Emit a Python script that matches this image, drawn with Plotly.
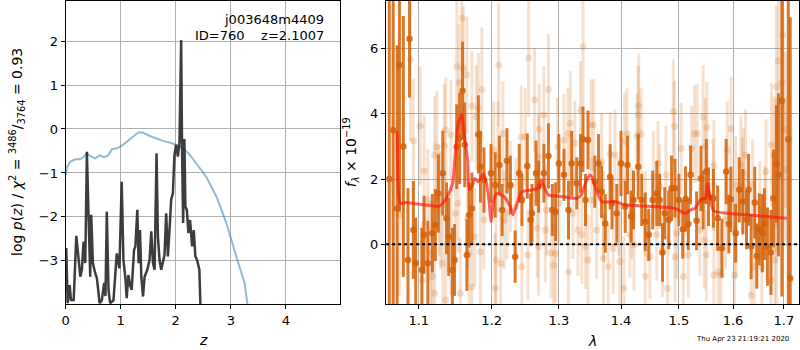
import math
import plotly.graph_objects as go

# ---------------- left panel: redshift PDF ----------------
z_chi2 = [0.0, 0.03, 0.085, 0.175, 0.265, 0.33, 0.385, 0.45, 0.535, 0.62, 0.69, 0.77, 0.84, 0.93, 1.02,
          1.11, 1.23, 1.32, 1.40, 1.53, 1.77, 1.95, 2.13, 2.25, 2.37, 2.55, 2.74, 2.92, 3.10, 3.25, 3.30, 3.35]
chi2_scaled = [-1.05, -0.85, -0.74, -0.69, -0.69, -0.63, -0.55, -0.62, -0.67, -0.60, -0.64, -0.60, -0.46, -0.44, -0.38,
               -0.29, -0.19, -0.08, -0.08, -0.16, -0.27, -0.33, -0.44, -0.58, -0.78, -1.08, -1.54, -2.14, -2.90, -3.50, -3.96, -4.5]

z_pz = [0.0, 0.01, 0.036, 0.072, 0.096, 0.145, 0.193, 0.235, 0.266, 0.295,
        0.325, 0.356, 0.385, 0.416, 0.446, 0.464, 0.494, 0.537, 0.566, 0.597,
        0.615, 0.656, 0.70, 0.723, 0.747, 0.778, 0.808, 0.868, 0.928, 0.976,
        1.018, 1.049, 1.085, 1.109, 1.139, 1.17, 1.199, 1.242, 1.266, 1.302,
        1.325, 1.35, 1.374, 1.405, 1.434, 1.483, 1.524, 1.555, 1.586, 1.615,
        1.651, 1.676, 1.705, 1.736, 1.767, 1.796, 1.826, 1.857, 1.886, 1.917,
        1.948, 1.976, 2.007, 2.038, 2.067, 2.098, 2.116, 2.134, 2.157, 2.175,
        2.201, 2.23, 2.26, 2.297, 2.327, 2.356, 2.387, 2.429, 2.447, 2.46]
log_pz = [-2.75, -2.71, -3.96, -3.55, -3.89, -3.89, -2.43, -2.98, -3.36, -3.19,
          -2.56, -3.05, -0.52, -1.99, -3.36, -1.95, -3.05, -3.28, -3.39, -3.73,
          -3.96, -3.9, -3.5, -3.8, -1.88, -3.66, -3.96, -3.9, -2.83, -3.17,
          -1.20, -2.98, -3.39, -3.85, -3.32, -3.55, -3.66, -2.75, -2.67, -1.84,
          -3.05, -2.30, -3.36, -3.81, -3.36, -3.20, -2.98, -2.33, -3.05, -3.20,
          -0.55, -2.45, -2.98, -3.20, -2.98, -2.86, -1.92, -2.90, -2.30, -1.61,
          -1.46, -0.59, -0.36, -0.63, -0.32, 2.02, -0.63, -2.14, -0.23, -1.77,
          -1.84, -2.37, -2.07, -2.67, -2.30, -2.90, -2.98, -3.20, -3.96, -4.5]

z_ticks = [0, 1, 2, 3, 4]
pz_ticks = [-3, -2, -1, 0, 1, 2]

# ---------------- right panel: spectrum ----------------
lam_dark = [1.062, 1.067, 1.072, 1.075, 1.080, 1.086, 1.088, 1.093, 1.096, 1.104, 1.107, 1.112, 1.118, 1.122, 1.126,
            1.132, 1.137, 1.140, 1.145, 1.148, 1.151, 1.155, 1.159, 1.162, 1.165, 1.168, 1.172, 1.181, 1.184, 1.189,
            1.199, 1.205, 1.211, 1.215, 1.222, 1.227, 1.234, 1.240, 1.244, 1.252, 1.257, 1.259, 1.265, 1.269, 1.277,
            1.284, 1.290, 1.295, 1.300, 1.308, 1.315, 1.320, 1.328, 1.334, 1.338, 1.342, 1.346,
            1.357, 1.363, 1.368, 1.374, 1.382, 1.385, 1.393, 1.400, 1.407, 1.411, 1.417, 1.421, 1.429, 1.435,
            1.441, 1.447, 1.454, 1.461, 1.466, 1.471, 1.475, 1.482, 1.487, 1.493, 1.500, 1.507, 1.512, 1.517, 1.521,
            1.532, 1.540, 1.544, 1.550, 1.554, 1.563, 1.571, 1.579, 1.587, 1.592, 1.596, 1.605, 1.612, 1.619, 1.626,
            1.630, 1.635, 1.642, 1.646, 1.651, 1.657, 1.661, 1.667, 1.674, 1.679, 1.685, 1.689, 1.696, 1.709, 1.713]
flux_dark = [2.0, 3.5, 1.10, 5.50, 3.0, -0.48, 6.3, 0.44, -0.58, -0.79, 0.29, -0.58, 0.34, 0.59, 1.56,
             2.18, 0.80, 0.23, -0.79, -0.48, 2.99, 3.25, 4.71, 3.05, -0.33, 0.90, 1.10, 3.37, 2.38, 1.97,
             2.18, 1.82, 2.43, 1.05, 2.56, 1.82, -0.38, 2.18, 1.36, 2.40, 0.75, 0.95, 2.18, 1.77, 2.18,
             2.71, 1.05, 1.00, 2.48, 2.13, 1.05, 2.48, 1.87, 2.48, 3.22, 1.36, 3.20,
             1.92, 2.48, 1.61, 0.64, 2.07, 1.26, 0.95, 2.48, 1.15, 2.43, 0.85, 1.36, 2.38, 1.36,
             0.69, 0.29, 1.36, 1.56, 1.36, -0.25, 0.95, 0.75, 1.72, 1.72, 1.36, 0.46, 1.39, 0.62, 2.13,
             0.72, 2.02, 1.36, 2.23, 1.46, 1.41, 0.80, -0.12, 2.23, 0.62, 1.38, 0.34, 1.67, 1.31, 0.75,
             1.67, -0.07, 1.28, -0.36, 0.46, 0.34, 0.62, -0.07, -0.25, 1.41, 2.46, 2.13, 4.40, 3.22, -1.04]
err_dark = [8.0, 6.0, 5.0, 4.5, 4.0, 2.2, 1.8, 1.5, 1.4, 1.3, 1.2, 1.3, 1.2, 1.1, 1.2,
            1.3, 1.1, 1.2, 1.3, 1.1, 1.3, 1.4, 1.5, 1.3, 1.1, 1.0, 1.1, 1.2, 1.1, 1.0,
            0.9, 1.0, 0.9, 0.8, 1.0, 0.9, 0.8, 0.9, 0.8, 1.0, 0.8, 0.9, 1.0, 0.8, 0.9,
            1.0, 0.8, 0.9, 0.9, 0.8, 0.9, 1.0, 0.8, 0.9, 1.0, 0.8, 0.9,
            0.8, 0.9, 0.8, 0.9, 1.0, 0.8, 0.9, 1.0, 0.8, 0.9, 0.8, 0.9, 1.0, 0.8,
            0.9, 0.8, 0.9, 1.0, 0.8, 0.9, 0.8, 0.9, 1.0, 0.9, 0.8, 0.9, 1.0, 0.8, 0.9,
            0.9, 1.0, 0.9, 1.0, 0.9, 0.9, 1.0, 0.9, 1.0, 0.9, 1.0, 0.9, 1.0, 1.0, 0.9,
            1.1, 1.0, 1.1, 1.0, 1.1, 1.2, 1.1, 1.2, 1.3, 1.5, 1.8, 2.5, 6.0, 7.0, 8.0]

lam_light = [1.089, 1.102, 1.093, 1.107, 1.112, 1.121, 1.124, 1.134, 1.136, 1.143,
             1.151, 1.154, 1.158, 1.160, 1.165, 1.172, 1.178, 1.186, 1.181, 1.149,
             1.153, 1.127, 1.129, 1.116, 1.118, 1.121, 1.136, 1.156, 1.172, 1.176,
             1.166, 1.184, 1.189, 1.075, 1.105, 1.132, 1.143, 1.168,
             1.210, 1.216, 1.203, 1.209, 1.254, 1.263, 1.284, 1.270, 1.277, 1.243,
             1.249, 1.314, 1.318, 1.334, 1.338, 1.351, 1.218, 1.222, 1.206, 1.213,
             1.205, 1.244, 1.253, 1.269, 1.279, 1.288, 1.295, 1.292, 1.315, 1.330,
             1.336, 1.346, 1.342, 1.267, 1.281, 1.300, 1.322, 1.235, 1.227, 1.269,
             1.298, 1.308, 1.325,
             1.355, 1.430, 1.429, 1.434, 1.427, 1.410, 1.406, 1.490, 1.492, 1.523,
             1.528, 1.504, 1.382, 1.390, 1.368, 1.463, 1.455, 1.477, 1.352, 1.371,
             1.360, 1.371, 1.379, 1.387, 1.398, 1.405, 1.415, 1.422, 1.441, 1.449,
             1.461, 1.471, 1.480, 1.493, 1.508, 1.517, 1.496, 1.441, 1.418, 1.396,
             1.466,
             1.533, 1.544, 1.551, 1.548, 1.564, 1.596, 1.589, 1.624, 1.615, 1.620,
             1.664, 1.675, 1.680, 1.685, 1.689, 1.696, 1.698, 1.703, 1.685, 1.703,
             1.538, 1.546, 1.550, 1.564, 1.572, 1.577, 1.603, 1.635, 1.641, 1.656,
             1.682, 1.685, 1.674, 1.606, 1.618, 1.638, 1.652, 1.662, 1.586, 1.563,
             1.605]
flux_light = [5.67, 3.63, 3.17, 2.25, 1.33, 2.74, 2.99, 3.02, 3.51, 3.35,
              5.45, 4.96, 6.93, 5.40, 5.19, 4.24, 3.90, 4.75, 4.17, 0.95,
              1.26, 1.36, 1.05, -0.28, -0.99, -1.50, -1.71, -1.50, -1.30, 0.23,
              0.80, -0.23, 0.75, 0.90, -1.10, -0.58, 0.13, -0.28,
              5.50, 3.40, 2.89, 2.69, 5.71, 4.43, 4.75, 3.53, 3.97, 3.28,
              3.30, 3.40, 3.71, 4.12, 6.06, 3.66, 0.75, 0.95, -0.48, -0.58,
              -1.35, -0.69, -0.33, -0.07, 0.44, -0.26, -0.28, -0.64, -0.84, 0.44,
              0.29, -0.48, -0.07, 0.49, 1.05, 1.26, 0.95, 1.15, 1.77, 2.69,
              2.99, 3.20, 3.10,
              3.66, 4.24, 3.97, 3.38, 3.32, 3.38, 3.15, 4.07, 3.61, 2.94,
              3.38, 2.94, 2.77, 2.74, 2.53, 2.48, 2.07, 2.13, 1.36, 0.85,
              0.44, -0.43, -0.69, -0.12, -0.53, -1.35, 0.29, -0.02, -0.99, -0.38,
              0.29, -0.12, -1.35, -0.38, -0.99, -0.33, 0.34, 0.95, 0.95, 1.15,
              1.77,
              3.40, 3.90, 3.58, 2.99, 2.41, 3.54, 2.89, 2.74, 2.45, 2.18,
              2.23, 3.05, 2.74, 4.83, 5.62, 4.96, 6.42, 3.51, 2.48, 2.28,
              0.44, 0.13, -0.33, -0.94, -0.84, -0.94, -0.94, -1.56, -0.69, -0.69,
              -0.48, -0.12, -1.10, 0.34, 1.77, 1.82, 1.05, 1.00, 0.75, 1.82,
              1.82]
err_light = [2.5, 1.8, 1.9, 1.7, 1.6, 1.8, 1.7, 1.9, 1.6, 1.7,
             2.0, 1.8, 2.2, 1.9, 1.8, 1.7, 1.6, 1.9, 1.7, 1.6,
             1.5, 1.7, 1.8, 1.6, 1.9, 1.7, 1.8, 1.7, 1.6, 1.5,
             1.6, 1.7, 1.5, 2.5, 1.8, 1.6, 1.7, 1.6,
             1.9, 1.6, 1.5, 1.7, 1.8, 1.6, 1.7, 1.4, 1.5, 1.6,
             1.5, 1.4, 1.6, 1.5, 1.9, 1.4, 1.5, 1.4, 1.6, 1.5,
             1.7, 1.5, 1.4, 1.5, 1.6, 1.4, 1.5, 1.3, 1.6, 1.4,
             1.5, 1.4, 1.3, 1.5, 1.4, 1.3, 1.4, 1.5, 1.4, 1.3,
             1.5, 1.4, 1.3,
             1.4, 1.6, 1.5, 1.4, 1.3, 1.4, 1.5, 1.6, 1.4, 1.3,
             1.5, 1.4, 1.3, 1.4, 1.5, 1.3, 1.4, 1.5, 1.3, 1.4,
             1.5, 1.4, 1.3, 1.4, 1.5, 1.6, 1.3, 1.4, 1.5, 1.3,
             1.4, 1.5, 1.6, 1.4, 1.5, 1.3, 1.4, 1.3, 1.4, 1.5,
             1.3,
             1.5, 1.6, 1.4, 1.5, 1.4, 1.6, 1.5, 1.4, 1.5, 1.4,
             1.6, 1.9, 1.8, 2.5, 2.8, 2.6, 3.0, 2.4, 2.0, 2.2,
             1.4, 1.5, 1.4, 1.6, 1.5, 1.4, 1.5, 1.6, 1.5, 1.6,
             1.8, 1.7, 1.9, 1.4, 1.5, 1.4, 1.5, 1.4, 1.5, 1.4,
             1.5]

lam_model = [1.072, 1.076, 1.083, 1.127, 1.136, 1.145, 1.149, 1.153, 1.158, 1.161,
             1.166, 1.168, 1.172, 1.176, 1.181, 1.188, 1.192, 1.196, 1.199, 1.203,
             1.207, 1.218, 1.227, 1.231, 1.240, 1.244, 1.259, 1.269, 1.273, 1.277,
             1.284, 1.308, 1.328, 1.335, 1.343, 1.349, 1.352, 1.368, 1.390, 1.407,
             1.463, 1.493, 1.511, 1.523, 1.529, 1.540, 1.548, 1.552, 1.557, 1.563,
             1.589, 1.652, 1.706]
flux_model = [3.45, 1.26, 1.28, 1.17, 1.38, 1.82, 2.79, 3.71, 3.97, 3.40,
              2.59, 1.67, 1.77, 2.02, 1.92, 2.16, 1.92, 1.36, 0.70, 1.36,
              1.56, 1.46, 1.15, 0.90, 1.46, 1.61, 1.67, 1.72, 1.97, 1.77,
              1.51, 1.46, 1.41, 1.51, 1.92, 2.13, 2.07, 1.31, 1.31, 1.21,
              1.15, 1.10, 0.95, 1.07, 1.10, 1.38, 1.41, 1.87, 1.46, 1.03,
              0.95, 0.87, 0.80]

lam_ticks = [1.1, 1.2, 1.3, 1.4, 1.5, 1.6, 1.7]
flux_ticks = [0, 2, 4, 6]

n_d = min(len(lam_dark), len(flux_dark), len(err_dark))
n_l = min(len(lam_light), len(flux_light), len(err_light))

FONT = "DejaVu Sans"
ORANGE_D = "rgba(212,98,8,0.85)"
ORANGE_L = "rgba(212,98,8,0.20)"
GRID = "#b0b0b0"

def minus(v):
    return str(v).replace("-", "\u2212")

fig = go.Figure()

# left panel
fig.add_trace(go.Scatter(x=z_chi2, y=chi2_scaled, mode="lines",
                         line=dict(color="rgba(31,119,180,0.5)", width=2),
                         xaxis="x", yaxis="y", showlegend=False, hoverinfo="skip"))
fig.add_trace(go.Scatter(x=z_pz, y=log_pz, mode="lines",
                         line=dict(color="rgba(40,40,40,0.9)", width=2.5),
                         xaxis="x", yaxis="y", showlegend=False, hoverinfo="skip"))

# right panel
fig.add_trace(go.Scatter(x=lam_light[:n_l], y=flux_light[:n_l], mode="markers",
                         marker=dict(color=ORANGE_L, size=7),
                         error_y=dict(type="data", array=err_light[:n_l], thickness=3, width=0, color=ORANGE_L),
                         xaxis="x2", yaxis="y2", showlegend=False, hoverinfo="skip"))
fig.add_trace(go.Scatter(x=lam_dark[:n_d], y=flux_dark[:n_d], mode="markers",
                         marker=dict(color=ORANGE_D, size=6.5),
                         error_y=dict(type="data", array=err_dark[:n_d], thickness=3, width=0, color=ORANGE_D),
                         xaxis="x2", yaxis="y2", showlegend=False, hoverinfo="skip"))
fig.add_trace(go.Scatter(x=lam_model, y=flux_model, mode="lines",
                         line=dict(color="rgba(255,20,10,0.65)", width=3, shape="spline", smoothing=0.5),
                         xaxis="x2", yaxis="y2", showlegend=False, hoverinfo="skip"))

axis_common = dict(showgrid=True, gridcolor=GRID, gridwidth=1, showline=True, linecolor="black",
                   linewidth=1.2, mirror=True, ticks="outside", ticklen=4, tickcolor="black",
                   zeroline=False, tickfont=dict(family=FONT, size=13, color="black"))

fig.update_layout(
    width=800, height=350,
    margin=dict(l=0, r=0, t=1, b=46),
    paper_bgcolor="white", plot_bgcolor="white",
    font=dict(family=FONT, color="black"),
    xaxis=dict(domain=[62 / 800, 338 / 800], range=[0, 4.99], tickvals=z_ticks,
               ticktext=[str(t) for t in z_ticks], anchor="y", **axis_common),
    yaxis=dict(domain=[0, 1], range=[-3.98, 2.91], tickvals=pz_ticks,
               ticktext=[minus(t) for t in pz_ticks], anchor="x", **axis_common),
    xaxis2=dict(domain=[384 / 800, 799 / 800], type="log",
                range=[math.log10(1.058), math.log10(1.731)], tickvals=lam_ticks,
                ticktext=[str(t) for t in lam_ticks], anchor="y2", **axis_common),
    yaxis2=dict(domain=[0, 1], range=[-1.83, 7.46], tickvals=flux_ticks,
                ticktext=[str(t) for t in flux_ticks], anchor="x2", **axis_common),
    shapes=[dict(type="line", xref="x2 domain", x0=0, x1=1, yref="y2", y0=0, y1=0,
                 line=dict(color="black", width=2, dash="dot"), layer="above")],
)

ann_font = dict(family=FONT, size=13, color="black")
fig.add_annotation(text="j003648m4409", xref="paper", yref="paper", x=324 / 800, y=(304 - 20) / 303,
                   xanchor="right", yanchor="middle", showarrow=False, font=ann_font)
fig.add_annotation(text="ID=760    z=2.1007", xref="paper", yref="paper", x=324 / 800, y=(304 - 35) / 303,
                   xanchor="right", yanchor="middle", showarrow=False, font=ann_font)
fig.add_annotation(text="<i>z</i>", xref="paper", yref="paper", x=200 / 800, y=(304 - 340) / 303,
                   xanchor="center", yanchor="middle", showarrow=False, font=dict(family=FONT, size=14))
fig.add_annotation(text="<i>λ</i>", xref="paper", yref="paper", x=591 / 800, y=(304 - 341) / 303,
                   xanchor="center", yanchor="middle", showarrow=False, font=dict(family=FONT, size=14))
fig.add_annotation(text="log <i>p</i>(<i>z</i>) / <i>χ</i><sup>2</sup> = <sup>3486</sup>/<sub>3764</sub> = 0.93",
                   xref="paper", yref="paper", x=13 / 800, y=(304 - 152) / 303, textangle=-90,
                   xanchor="center", yanchor="middle", showarrow=False, font=dict(family=FONT, size=14))
fig.add_annotation(text="<i>f</i><sub><i>λ</i></sub> × 10<sup>−19</sup>",
                   xref="paper", yref="paper", x=349 / 800, y=(304 - 152) / 303, textangle=-90,
                   xanchor="center", yanchor="middle", showarrow=False, font=dict(family=FONT, size=14))
fig.add_annotation(text="Thu Apr 23 21:19:21 2020", xref="paper", yref="paper", x=742 / 800,
                   y=(304 - 339) / 303, xanchor="center", yanchor="middle", showarrow=False,
                   font=dict(family=FONT, size=7))

fig.write_html("out.html", config={"displayModeBar": False},
               post_script="document.body.style.margin='0';document.body.style.overflow='hidden';")
